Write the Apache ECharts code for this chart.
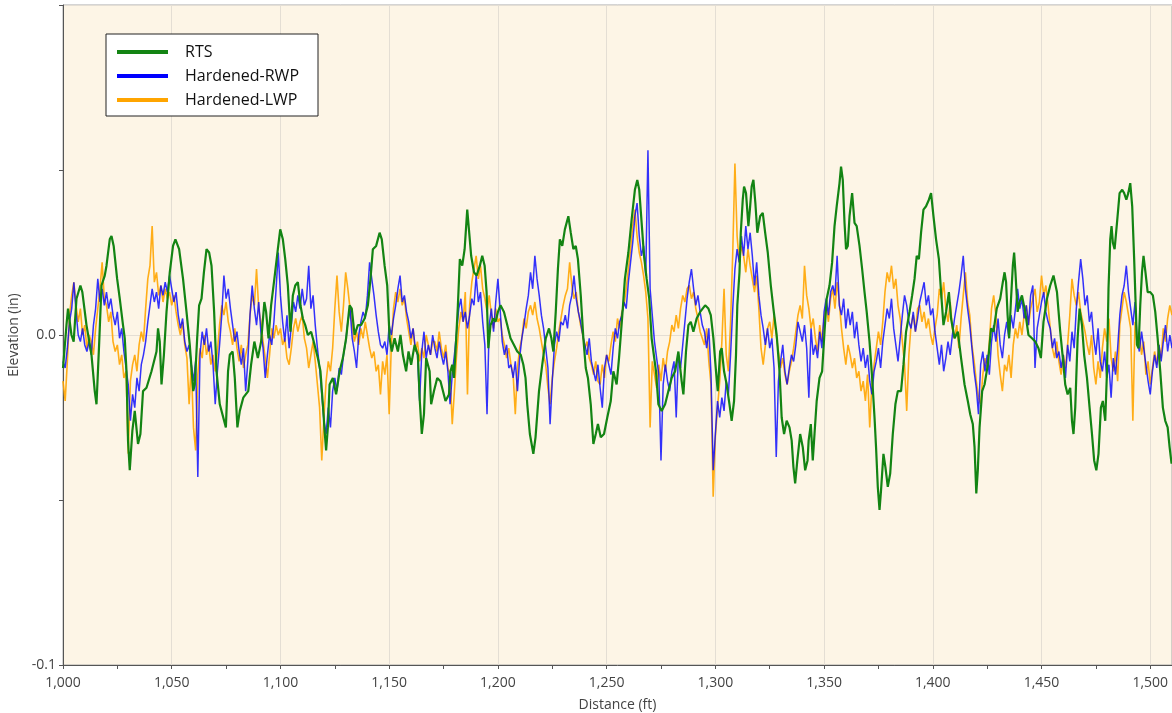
<!DOCTYPE html>
<html>
<head>
<meta charset="utf-8">
<title>Elevation profile</title>
<script src="https://cdn.jsdelivr.net/npm/echarts/dist/echarts.min.js"></script>
<style>
  html, body { margin: 0; padding: 0; background: #fff; }
  #main { width: 1172px; height: 713px; }
</style>
</head>
<body>
<div id="main"></div>
<script>
// elevations in thousandths of an inch, distance in ft
var profileStart = 1000;
var profileStep = 1;

var rwpMils = [
  -8, -10, -4, 4, 8, 16, 7, 0, -2, 2,
  -3, -5, -2, -6, 3, 8, 17, 10, 14, 9,
  13, 8, 11, 6, 3, 7, -1, 2, -5, -10,
  -15, -26, -18, -22, -13, -17, -9, -6, -2, 4,
  9, 14, 10, 13, 8, 15, 12, 16, 13, 18,
  14, 10, 13, 6, 2, 5, -2, -5, -3, -9,
  -14, -8, -43, -6, 1, -3, 2, -5, -2, -9,
  -21, -11, -3, 6, 18, 11, 14, 8, 3, -2,
  1, -5, -9, -4, -17, -8, 6, 15, 8, 3,
  10, 1, -4, -13, -6, 0, -3, 4, 14, 25,
  12, 4, -2, 6, -4, 3, 10, 7, 12, 8,
  14, 9, 11, 21, 8, 12, 3, -4, -10, -18,
  -26, -30, -22, -28, -17, -13, -17, -10, -12, -6,
  -2, 4, 8, -1, -5, -10, 0, 4, 7, 5,
  12, 22, 17, 12, 6, 1, -3, -4, -2, -6,
  3, 0, 5, 9, 14, 18, 10, 12, 7, 4,
  -1, 2, -4, -6, -20, -5, 1, -7, -3, -6,
  0, -4, -7, -2, -6, -9, -5, -11, -21, -12,
  -6, 1, 8, 11, 4, 7, 2, 6, 11, 9,
  18, 10, 13, 4, -3, -24, 3, 8, 1, 10,
  17, 8, -2, -6, -3, -10, -9, -13, -8, -17,
  -7, -1, 3, 8, 12, 19, 14, 24, 17, 12,
  6, 2, -4, -10, -27, -14, -3, 1, -2, 4,
  3, 6, 2, 9, 12, 18, 11, 7, 4, 0,
  -3, -6, -1, -8, -11, -14, -9, -16, -22, -10,
  -6, -9, -12, -4, 2, -1, 4, 6, 10, 8,
  16, 22, 28, 36, 40, 30, 24, 27, 18, 56,
  14, 6, -2, -7, -12, -38, -15, -9, -14, -17,
  -11, -8, -25, -6, -10, -3, 4, 11, 16, 20,
  14, 9, 12, 7, 3, 1, -4, 2, -12, -41,
  -30, -20, -25, -19, -23, -14, -18, -6, 8, 20,
  26, 22, 30, 24, 33, 26, 31, 24, 15, 22,
  12, 6, 2, -3, 2, -4, -1, -10, -37, -14,
  -8, -3, -11, -15, -10, -6, -8, -3, 4, 1,
  -2, 3, -4, -19, 2, -6, -3, -7, 1, -4,
  7, 11, 6, 13, 15, 12, 24, 9, 6, 11,
  2, 8, 3, 7, -1, 4, -3, -8, -4, -10,
  -6, -14, -18, -11, -8, -4, -10, -2, 3, 8,
  5, 11, 2, -3, -8, -1, 6, 12, 9, 4,
  2, 7, 1, 5, 10, 13, 16, 9, 12, 6,
  8, 1, -4, -9, -3, -11, -7, -2, -6, 0,
  5, 9, 13, 18, 24, 14, 8, 3, -4, -11,
  -16, -24, -9, -5, -11, -6, -12, -2, 3, -2,
  5, -3, -7, 0, 4, -1, 6, 2, 8, 14,
  8, 11, 5, 9, 3, 12, 15, -10, 2, 6,
  10, 13, 7, 4, 2, -4, -1, -7, -5, -10,
  -6, -13, -3, -8, 1, -4, 8, 16, 23, 17,
  9, 12, 4, 7, -1, -6, 2, -8, -11, -5,
  -13, -9, -19, -7, -12, -4, 6, 12, 15, 21,
  13, 8, 3, 10, -2, -5, 1, -4, -9, -14,
  -18, -11, -6, -10, -3, -8, -2, 3, -5, 0,
  -4
];

var lwpMils = [
  -14, -20, -8, 6, 12, 16, 9, 4, 8, 0,
  3, -4, 0, -2, -6, 2, 8, 14, 22, 11,
  9, 4, 7, -2, -5, -3, -9, -6, -13, -11,
  -36, -14, -9, -6, -11, -3, 1, -2, 8, 17,
  21, 33, 16, 19, 12, 15, 10, 14, 11, 13,
  9, 12, 7, 3, 0, 4, -3, -7, -21, -9,
  -28, -35, -12, -4, -7, 0, -6, -3, -9, -6,
  -11, -5, 3, 9, 6, 10, 4, 1, -3, 2,
  -4, -8, -3, -10, -6, -3, 6, 12, 9, 20,
  8, 4, -2, -7, -13, -6, 2, -1, 3, 0,
  2, -3, -1, -7, -9, -4, 2, 5, 1, 4,
  6, -1, -4, -10, -6, -2, -8, -15, -22, -38,
  -25, -14, -8, -11, -4, 8, 18, 7, 1, 9,
  19, 14, 8, 3, -2, 1, -3, 2, -1, 4,
  0, -4, -7, -5, -11, -9, -18, -8, -12, -6,
  -24, -3, 8, 13, 10, 14, 9, 11, 5, 1,
  -3, 2, -5, -2, -8, -4, -7, 0, -3, -6,
  -2, -2, -5, 1, -4, -7, -3, -10, -12, -27,
  -17, -6, 2, 7, 4, 13, -18, 9, 16, 20,
  24, 17, 21, 14, 11, 7, 12, 6, 2, 8,
  4, 5, 0, -3, -7, -4, -9, -12, -24, -10,
  -4, -1, 5, 2, 7, 9, 6, 10, 5, 2,
  -2, -6, -9, -16, -21, -13, -8, -4, 1, 5,
  9, 12, 14, 22, 15, 11, 13, 7, 3, 0,
  -4, -2, -7, -9, -12, -8, -14, -15, -9, -13,
  -6, -8, -3, 1, -2, 5, 2, 7, 9, 14,
  20, 26, 33, 38, 30, 25, 22, 18, 13, 5,
  -28, -8, -12, -16, -9, -14, -7, -11, -5, -2,
  3, 1, 6, 2, 8, 12, 10, 14, 15, 11,
  13, 8, 5, 1, -1, -3, 2, -8, -15, -49,
  -31, -22, -14, -2, 14, -6, -11, 4, 25, 52,
  30, 22, 27, 24, 19, 26, 21, 17, 13, 18,
  8, -4, -9, -3, 2, 4, -1, 6, 0, -5,
  -10, -7, -12, -15, -11, -8, -4, 1, 6, 9,
  5, 21, 12, 8, 2, 5, -1, -5, 3, -2,
  5, 9, 4, 11, 14, 8, 16, 10, 2, -4,
  -9, -3, -6, -10, -7, -13, -11, -17, -14, -20,
  -12, -28, -15, -9, -4, 1, -3, 4, 13, 19,
  16, 21, 14, 17, 9, 5, -2, -9, -23, -6,
  3, 6, 1, 8, 9, 4, 7, 2, 5, 0,
  -3, 2, 6, 14, 11, 16, 8, 4, 10, 2,
  -1, 3, -4, 5, 12, 19, 10, 6, -3, -8,
  -14, -19, -21, -12, -7, -10, -2, 8, 12, 6,
  -6, -12, -17, -9, -11, -6, -13, -3, 2, -1,
  4, 0, 6, 9, 3, 8, 11, 14, 7, 10,
  18, 12, 15, 9, 2, -4, -7, -2, -8, -12,
  -6, -10, -3, 6, 17, 12, 9, 13, 7, 4,
  1, -3, -6, 0, -10, -15, -8, -13, -4, 2,
  -2, 5, -7, -11, -5, -14, 3, 8, 13, 10,
  6, 2, -26, 4, -3, 1, -6, -2, -12, -8,
  -15, -10, -5, -9, -3, -7, 2, -2, 5, 9,
  6
];

// RTS reference profile: [distance ft, elevation mils]
var rtsPoints = [
  [1000, -10], [1001.6, 3], [1002.3, 8], [1003.9, 0], [1004.9, -2], [1006.2, 11], [1008, 15], [1008.9, 13],
  [1010.8, 3], [1013.1, -6], [1014.6, -17], [1015.4, -21], [1016.6, -3], [1017.7, 15], [1019.2, 18], [1020, 21],
  [1021.5, 29], [1022.3, 30], [1023.3, 27], [1024.9, 17], [1026.1, 11], [1027.6, 3], [1028.4, -1], [1029.2, -11],
  [1029.9, -32], [1030.7, -41], [1031.9, -29], [1033, -23], [1034.5, -33], [1035.6, -30], [1036.8, -17], [1038.4, -16],
  [1040.7, -11], [1043, -5], [1043.7, 2], [1044.5, -2], [1045.3, -15], [1046.4, -6], [1047.6, 7], [1049.1, 19],
  [1050.6, 27], [1051.7, 29], [1053.4, 26], [1055.2, 17], [1056.8, 7], [1058.3, -3], [1059.9, -17], [1060.6, -15],
  [1061.7, -1], [1062.6, 9], [1063.7, 11], [1064.8, 19], [1066, 26], [1067.2, 25], [1068.3, 21], [1069.5, 7],
  [1070.6, -11], [1072.1, -21], [1074.9, -28], [1075.9, -11], [1076.7, -6], [1078, -5], [1079, -13], [1080.2, -28],
  [1081.3, -23], [1082.9, -19], [1085.2, -17], [1086.5, -9], [1088, -2], [1089.6, -7], [1091.1, -2], [1092.6, 10],
  [1093.4, 7], [1094.5, -1], [1095.7, 9], [1097.2, 17], [1098.8, 26], [1099.9, 32], [1101.1, 29], [1102.2, 23],
  [1103.4, 15], [1104.6, 1], [1105.7, 12], [1106.8, 15], [1108, 16], [1109.2, 9], [1110.3, 5], [1111.4, 3],
  [1112.6, 0], [1114.1, 1], [1115.7, -3], [1117.2, -7], [1118.4, -11], [1119.5, -21], [1120.3, -29], [1121, -35],
  [1121.8, -28], [1122.6, -15], [1124.1, -13], [1125.6, -18], [1127.2, -11], [1128.7, -7], [1130.2, -1], [1131.8, 9],
  [1132.8, 8], [1134.1, 0], [1135.6, 3], [1137.1, 3], [1138.7, 5], [1140.2, 9], [1141.4, 17], [1142.5, 26],
  [1144, 27], [1145.6, 31], [1146.6, 29], [1147.9, 21], [1149.1, 15], [1150.2, -1], [1151.2, -5], [1152.5, -1],
  [1154, -5], [1155.2, 0], [1156.3, -6], [1157.8, -11], [1158.9, -5], [1160.1, -9], [1161.7, -3], [1163.2, -6],
  [1164, -19], [1165, -30], [1166, -24], [1167, -7], [1168.6, -11], [1169.3, -21], [1170.6, -17], [1172.1, -13],
  [1173.6, -14], [1175.9, -20], [1177.5, -18], [1178.2, -11], [1179, -9], [1179.8, -13], [1180.5, -5], [1181.6, 9],
  [1182.5, 23], [1183.6, 21], [1184.7, 26], [1185.9, 38], [1186.8, 31], [1187.7, 24], [1189, 19], [1190.2, 18],
  [1191.7, 21], [1192.8, 24], [1193.9, 21], [1194.8, 13], [1195.6, -4], [1196.6, 3], [1197.9, 5], [1198.9, 4],
  [1200, 7], [1201.2, 9], [1202.8, 7], [1204.3, 3], [1205.8, -1], [1207.4, -3], [1208.9, -5], [1210.5, -6],
  [1211.7, -9], [1212.7, -13], [1213.5, -21], [1214.7, -30], [1216.3, -36], [1217.3, -31], [1218.9, -17], [1220.4, -9],
  [1222, -1], [1223.5, 2], [1224.6, -1], [1225.5, -5], [1226.6, 7], [1227.6, 20], [1228.5, 29], [1229.6, 27],
  [1230.8, 32], [1232.4, 36], [1233.5, 31], [1234.7, 26], [1235.8, 27], [1236.8, 23], [1238.1, 12], [1239.3, -1],
  [1240.4, -10], [1241.4, -13], [1242.7, -21], [1243.9, -33], [1245, -30], [1246, -27], [1247.3, -31], [1248.8, -30],
  [1250.3, -25], [1251.9, -20], [1253.1, -11], [1254.6, -15], [1255.7, -7], [1257.1, 5], [1258.4, 17], [1260, 25],
  [1261.5, 35], [1263, 44], [1264.1, 47], [1265, 44], [1266.1, 34], [1267.2, 24], [1268.4, 17], [1269.6, 11],
  [1270.7, -1], [1271.5, -5], [1272.7, -11], [1273.8, -21], [1275.3, -23], [1276.9, -21], [1278.4, -17], [1279.9, -13],
  [1281.5, -11], [1283, -5], [1284.5, -14], [1285.3, -18], [1286.5, -5], [1287.6, 3], [1288.7, 4], [1289.9, 1],
  [1291.4, 5], [1293, 7], [1295.3, 9], [1296.8, 8], [1297.9, 6], [1299.1, -1], [1300.3, -11], [1301.1, -17],
  [1302.2, -5], [1302.9, -4], [1304, -11], [1305.2, -15], [1306.5, -21], [1307.5, -26], [1308.6, -20], [1309.5, -6],
  [1310.1, 9], [1311.1, 19], [1311.7, 31], [1312.6, 41], [1313.2, 45], [1314.1, 43], [1315.2, 33], [1316, 39],
  [1316.7, 45], [1317.5, 47], [1318.4, 40], [1319.3, 31], [1320.6, 36], [1321.8, 37], [1322.9, 31], [1324.1, 25],
  [1325.5, 15], [1326.7, 8], [1328.2, 0], [1329.5, -11], [1330.5, -25], [1331.6, -30], [1332.8, -26], [1334.1, -28],
  [1335.1, -32], [1335.9, -40], [1336.7, -45], [1337.7, -38], [1339, -30], [1340.2, -34], [1341.3, -41], [1342.4, -38],
  [1342.9, -32], [1343.9, -27], [1344.8, -38], [1345.6, -30], [1346.6, -20], [1347.9, -13], [1349.1, -11], [1350.2, 1],
  [1351.2, 11], [1352.5, 15], [1353.7, 22], [1354.8, 33], [1355.8, 39], [1357.1, 46], [1357.8, 51], [1358.6, 47],
  [1359.4, 34], [1360.1, 26], [1360.9, 27], [1361.7, 36], [1362.9, 43], [1364, 34], [1365, 33], [1366.3, 27],
  [1367.5, 20], [1368.6, 13], [1369.6, 7], [1370.9, -2], [1372.1, -13], [1373.2, -25], [1373.9, -34], [1374.7, -46],
  [1375.5, -53], [1376.2, -47], [1377.3, -36], [1378.2, -40], [1379.3, -46], [1380.4, -42], [1381.6, -30], [1382.8, -21],
  [1383.9, -17], [1385.4, -17], [1386.5, -9], [1387.7, 1], [1389.3, 7], [1390.5, 12], [1391.6, 17], [1392.6, 24],
  [1393.6, 23], [1394.6, 31], [1395.7, 38], [1396.9, 39], [1398.2, 41], [1399.2, 43], [1400.3, 36], [1401.5, 29],
  [1402.8, 23], [1403.8, 13], [1404.9, 3], [1406.1, 7], [1407.4, 13], [1408.4, 5], [1410, -1], [1411.5, 1],
  [1413, -7], [1414.6, -15], [1416.1, -20], [1417.2, -24], [1418.4, -27], [1419.2, -34], [1420, -48], [1420.7, -41],
  [1421.5, -28], [1422.7, -17], [1423.8, -15], [1425.3, -9], [1426.8, 2], [1427.9, 1], [1429.4, 8], [1431, 11],
  [1432.2, 16], [1433, 19], [1433.7, 16], [1434.4, 6], [1435.1, -1], [1435.9, 10], [1436.8, 21], [1437.4, 25],
  [1438, 19], [1439, 7], [1439.9, 10], [1441, 12], [1442.5, 7], [1444, 0], [1445.6, -1], [1447.1, -2],
  [1448.6, -4], [1449.7, -7], [1450.9, 4], [1452.5, 11], [1454, 15], [1455.5, 18], [1457.1, 13], [1458.6, 1],
  [1459.8, -7], [1460.9, -15], [1462, -18], [1463.2, -16], [1464, -26], [1464.7, -30], [1465.5, -22], [1466.6, -1],
  [1467.5, 8], [1468.6, 3], [1469.6, -6], [1470.9, -13], [1472.1, -22], [1473.2, -30], [1474.2, -38], [1475.2, -41],
  [1476.2, -36], [1477.3, -22], [1478.2, -20], [1479.3, -26], [1480.1, -11], [1480.8, 14], [1481.6, 29], [1482.2, 33],
  [1482.8, 28], [1483.6, 26], [1484.7, 34], [1485.9, 43], [1487.1, 44], [1488, 43], [1489, 41], [1489.9, 43],
  [1490.8, 46], [1491.7, 39], [1492.6, 23], [1493.3, 9], [1493.9, -3], [1494.6, -4], [1495.4, 9], [1496.2, 19],
  [1496.9, 24], [1497.8, 19], [1498.8, 13], [1500, 13], [1501.2, 12], [1502.3, 7], [1503.4, -1], [1504.6, -11],
  [1505.8, -22], [1506.9, -26], [1508, -28], [1508.9, -34], [1509.8, -39]
];

function toPairs(values) {
  return values.map(function (v, i) {
    return [profileStart + i * profileStep, v];
  });
}

var axisColor = '#555';
var gridColor = '#e4ded4';

var myChart = echarts.init(document.getElementById('main'), null, { renderer: 'canvas' });

var option = {
  animation: false,
  backgroundColor: '#ffffff',
  textStyle: { fontFamily: 'Open Sans' },
  grid: {
    left: 63, right: 0, top: 5, bottom: 48,
    show: true,
    backgroundColor: '#fdf5e6',
    borderColor: '#a8a8a8',
    borderWidth: 1,
    containLabel: false,
    outerBoundsMode: 'none'
  },
  legend: {
    orient: 'vertical',
    left: 106, top: 34,
    selectedMode: false,
    data: [
      { name: 'RTS', icon: 'rect' },
      { name: 'Hardened-RWP', icon: 'rect' },
      { name: 'Hardened-LWP', icon: 'rect' }
    ],
    itemWidth: 51,
    itemHeight: 4,
    itemGap: 6,
    backgroundColor: '#ffffff',
    borderColor: '#222',
    borderWidth: 1,
    borderRadius: 0,
    padding: [9, 19, 7, 11],
    textStyle: { fontSize: 16, color: '#111', lineHeight: 18, padding: [0, 0, 0, 12] }
  },
  xAxis: {
    type: 'value',
    min: 1000, max: 1510, interval: 50,
    name: 'Distance (ft)',
    nameLocation: 'middle',
    nameGap: 33,
    nameTextStyle: { fontSize: 14, color: '#444' },
    axisLine: { show: true, onZero: false, lineStyle: { color: axisColor, width: 1 } },
    axisTick: { show: true, length: 4, lineStyle: { color: axisColor } },
    minorTick: { show: true, splitNumber: 2, length: 4, lineStyle: { color: axisColor } },
    axisLabel: {
      fontSize: 14, color: '#444', margin: 11,
      formatter: function (v) {
        if (v % 50 !== 0) return '';
        return v.toLocaleString('en-US');
      }
    },
    splitLine: { show: true, lineStyle: { color: gridColor, width: 1 } },
    minorSplitLine: { show: false }
  },
  yAxis: {
    type: 'value',
    min: -100, max: 100, interval: 100,
    name: 'Elevation (in)',
    nameLocation: 'middle',
    nameRotate: 90,
    nameGap: 37,
    nameTextStyle: { fontSize: 14, color: '#444' },
    axisLine: { show: true, onZero: false, lineStyle: { color: axisColor, width: 1 } },
    axisTick: { show: true, length: 4, lineStyle: { color: axisColor } },
    minorTick: { show: true, splitNumber: 2, length: 4, lineStyle: { color: axisColor } },
    axisLabel: {
      fontSize: 14, color: '#444', margin: 7,
      showMaxLabel: false,
      formatter: function (v) {
        if (v >= 100) return '';
        return v === 0 ? '0.0' : (v / 1000).toFixed(1);
      }
    },
    splitLine: { show: true, lineStyle: { color: gridColor, width: 1 } }
  },
  series: [
    {
      name: 'Hardened-LWP',
      type: 'line',
      data: toPairs(lwpMils),
      color: '#ffa500',
      showSymbol: false,
      symbol: 'none',
      silent: true,
      z: 2,
      lineStyle: { width: 1.6, color: '#ffa500', opacity: 0.9 }
    },
    {
      name: 'Hardened-RWP',
      type: 'line',
      data: toPairs(rwpMils),
      color: '#0000ff',
      showSymbol: false,
      symbol: 'none',
      silent: true,
      z: 3,
      lineStyle: { width: 1.5, color: '#0000ff', opacity: 0.8 }
    },
    {
      name: 'RTS',
      type: 'line',
      data: rtsPoints,
      color: '#138413',
      showSymbol: false,
      symbol: 'none',
      silent: true,
      z: 4,
      lineStyle: { width: 2.2, color: '#138413' }
    }
  ]
};

myChart.setOption(option);
</script>
</body>
</html>
